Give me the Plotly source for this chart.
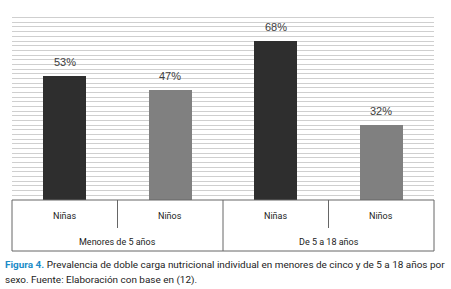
import plotly.graph_objects as go

categories = ["Niñas", "Niños", "Niñas", "Niños"]
groups = ["Menores de 5 años", "De 5 a 18 años"]
values = [53, 47, 68, 32]
bar_colors = ["#2e2e2e", "#808080", "#2e2e2e", "#808080"]
labels = ["53%", "47%", "68%", "32%"]

W, H = 451, 289
ml, mr, mt, mb = 12, 17, 12, 89
ph = H - mt - mb

def py(px):
    # pixel offset below the x-axis -> paper coordinate
    return -px / ph

xs = list(range(len(values)))
fig = go.Figure()
fig.add_trace(go.Bar(x=xs, y=values, marker=dict(color=bar_colors, line=dict(width=0)),
                     width=0.41, hoverinfo="skip"))

cond = "Liberation Sans Narrow, Arial Narrow, Roboto, sans-serif"
ann = []
for x, v, t in zip(xs, values, labels):
    ann.append(dict(x=x, y=v, xref="x", yref="y", text=t, showarrow=False,
                    yanchor="bottom", yshift=6,
                    font=dict(family="Liberation Sans, Arial, sans-serif", size=11, color="#404040")))
for x, c in zip(xs, categories):
    ann.append(dict(x=x, y=py(16), xref="x", yref="paper", text=c, showarrow=False,
                    yanchor="middle", font=dict(family=cond, size=9, color="#222")))
for i, g in enumerate(groups):
    ann.append(dict(x=2 * i + 0.5, y=py(41.5), xref="x", yref="paper", text=g, showarrow=False,
                    yanchor="middle", font=dict(family=cond, size=9, color="#222")))
ann.append(dict(x=-9 / 422, y=py(64), xref="paper", yref="paper", xanchor="left", yanchor="middle",
                showarrow=False, align="left",
                text="<b><span style='color:#1b8cc8'>Figura 4.</span></b> Prevalencia de doble carga nutricional individual en menores de cinco y de 5 a 18 años por",
                font=dict(family=cond, size=9.95, color="#222")))
ann.append(dict(x=-9 / 422, y=py(80), xref="paper", yref="paper", xanchor="left", yanchor="middle",
                showarrow=False, align="left",
                text="sexo. Fuente: Elaboración con base en (12).",
                font=dict(family=cond, size=9.95, color="#222")))

lc = "#666666"
shapes = []
# box borders
shapes.append(dict(type="line", xref="paper", yref="paper", x0=0, x1=0, y0=0, y1=py(51), line=dict(color=lc, width=1)))
shapes.append(dict(type="line", xref="paper", yref="paper", x0=1, x1=1, y0=0, y1=py(51), line=dict(color=lc, width=1)))
shapes.append(dict(type="line", xref="paper", yref="paper", x0=0, x1=1, y0=py(51), y1=py(51), line=dict(color=lc, width=1)))
shapes.append(dict(type="line", xref="paper", yref="paper", x0=0, x1=1, y0=0, y1=0, line=dict(color=lc, width=1)))
# dividers
shapes.append(dict(type="line", xref="x", yref="paper", x0=1.5, x1=1.5, y0=0, y1=py(51), line=dict(color=lc, width=1)))
for xd in (0.5, 2.5):
    shapes.append(dict(type="line", xref="x", yref="paper", x0=xd, x1=xd, y0=0, y1=py(28), line=dict(color=lc, width=1)))

fig.update_layout(
    width=W, height=H, margin=dict(l=ml, r=mr, t=mt, b=mb),
    paper_bgcolor="white", plot_bgcolor="white", showlegend=False,
    annotations=ann, shapes=shapes, bargap=0,
    xaxis=dict(range=[-0.5, 3.5], showticklabels=False, showgrid=False, zeroline=False, ticks=""),
    yaxis=dict(range=[0, 80.4], tickmode="linear", tick0=0, dtick=2, showticklabels=False,
               showgrid=True, gridcolor="#cfcfcf", gridwidth=1, zeroline=False, ticks=""),
)
fig.write_html("out.html", config={"displayModeBar": False},
               post_script="document.body.style.margin='0';document.body.style.padding='0';")
